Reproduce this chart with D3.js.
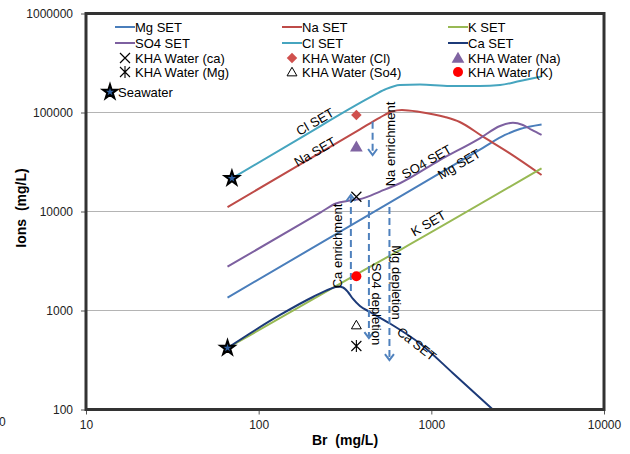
<!DOCTYPE html>
<html>
<head>
<meta charset="utf-8">
<script src="https://cdn.jsdelivr.net/npm/d3@7"></script>
<style>
  body { margin: 0; background: #fff; }
  svg { font-family: Arial, "Liberation Sans", sans-serif; }
</style>
</head>
<body>
<script>
// evaporation curves, Br (mg/L) against ion (mg/L)
var brMg  = [66, 658, 1990, 2670, 3260, 4350];
var ionMg = [1350, 14100, 44000, 59300, 68100, 75700];

var brNa  = [66, 173, 386, 504, 592, 676, 859, 1200, 1460, 1990, 2850, 4350];
var ionNa = [11100, 29700, 67500, 89000, 102400, 106000, 101200, 90000, 80200, 57000, 38700, 23400];

var brK  = [66, 366, 658, 4350];
var ionK = [418, 2300, 4080, 27300];

var brSO4  = [66, 230, 280, 338, 397, 504, 658, 1120, 1910, 2500, 2970, 3390, 3820, 4350];
var ionSO4 = [2770, 9880, 12050, 12900, 13500, 15900, 19300, 33100, 54900, 73100, 78900, 74800, 66600, 59300];

var brCl  = [70, 173, 441, 539, 658, 859, 1280, 1910, 2500, 3260, 4350];
var ionCl = [21600, 54800, 141800, 170800, 189600, 191800, 185200, 185200, 189600, 208000, 231000];

var brCa  = [66, 133, 206, 259, 288, 308, 329, 352, 386, 441, 576, 859, 1330, 2270];
var ionCa = [418, 901, 1369, 1649, 1748, 1708, 1538, 1307, 1111, 966, 739, 464, 234, 100];

// KHA water samples (all at one Br value)
var khaBr = 368;
var khaNames  = ["ca", "Cl", "Na", "Mg", "So4", "K"];
var khaValues = [14100, 94300, 45100, 438, 714, 2215];

// seawater starting points
var seaBr  = [70, 66];
var seaIon = [21600, 418];

// dashed arrows: Br, from, to
var arrowBr   = [342, 435, 572, 457];
var arrowFrom = [1574, 13070, 11110, 80700];
var arrowTo   = [14680, 527, 316, 37220];

var xTicks = [10, 100, 1000, 10000];
var yTicks = [100, 1000, 10000, 100000, 1000000];

var w = 630, h = 454;
var pLeft = 86, pRight = 604, pTop = 13.5, pBottom = 409.5;

var svg = d3.select("body").append("svg")
  .attr("width", w).attr("height", h);

var x = d3.scaleLog().domain([10, 10000]).range([pLeft, pRight]);
var y = d3.scaleLog().domain([100, 1000000]).range([pBottom, pTop]);

// gridlines
svg.append("g").selectAll("line")
  .data(yTicks.slice(1, 4))
  .enter().append("line")
  .attr("x1", pLeft).attr("x2", pRight)
  .attr("y1", function(d){ return y(d); })
  .attr("y2", function(d){ return y(d); })
  .attr("stroke", "#b4b4b4").attr("stroke-width", 1);

// axes
var xAxis = d3.axisBottom(x).tickValues(xTicks).tickFormat(d3.format("d"))
  .tickSize(5).tickPadding(6);
var yAxis = d3.axisLeft(y).tickValues(yTicks).tickFormat(d3.format("d"))
  .tickSize(5).tickPadding(8);

var gx = svg.append("g").attr("transform", "translate(0," + pBottom + ")").call(xAxis);
var gy = svg.append("g").attr("transform", "translate(" + pLeft + ",0)").call(yAxis);
[gx, gy].forEach(function(g){
  g.select(".domain").remove();
  g.selectAll("line").attr("stroke", "#555");
  g.selectAll("text").attr("font-size", 12).attr("fill", "#222")
    .attr("font-family", "Arial, 'Liberation Sans', sans-serif");
});

svg.append("text").attr("x", 345).attr("y", 445)
  .attr("text-anchor", "middle").attr("font-size", 14).attr("font-weight", "bold")
  .attr("xml:space", "preserve").text("Br  (mg/L)");
svg.append("text")
  .attr("transform", "translate(26,208) rotate(-90)")
  .attr("text-anchor", "middle").attr("font-size", 14).attr("font-weight", "bold")
  .attr("xml:space", "preserve").text("Ions  (mg/L)");
svg.append("text").attr("x", -1).attr("y", 426).attr("font-size", 12)
  .attr("fill", "#222").text("0");

// clip
svg.append("clipPath").attr("id", "plot")
  .append("rect").attr("x", pLeft).attr("y", pTop)
  .attr("width", pRight - pLeft).attr("height", pBottom - pTop);

var series = [
  { name: "Mg SET",  br: brMg,  ion: ionMg,  color: "#4a7ebb" },
  { name: "Na SET",  br: brNa,  ion: ionNa,  color: "#be4b48" },
  { name: "K SET",   br: brK,   ion: ionK,   color: "#98b954" },
  { name: "SO4 SET", br: brSO4, ion: ionSO4, color: "#7d60a0" },
  { name: "Cl SET",  br: brCl,  ion: ionCl,  color: "#46a5bf" },
  { name: "Ca SET",  br: brCa,  ion: ionCa,  color: "#1c3a78" }
];

var line = d3.line()
  .x(function(d){ return x(d[0]); })
  .y(function(d){ return y(d[1]); })
  .curve(d3.curveMonotoneX);

svg.append("g").attr("clip-path", "url(#plot)")
  .selectAll("path")
  .data(series)
  .enter().append("path")
  .attr("d", function(s){ return line(d3.zip(s.br, s.ion)); })
  .attr("fill", "none")
  .attr("stroke", function(s){ return s.color; })
  .attr("stroke-width", 2);

// dashed arrows
var blue = "#4f81bd";
arrowBr.forEach(function(b, i){
  var ax = x(b), y1 = y(arrowFrom[i]), y2 = y(arrowTo[i]);
  var dir = y2 > y1 ? 1 : -1;
  svg.append("line")
    .attr("x1", ax).attr("x2", ax).attr("y1", y1).attr("y2", y2 - dir * 2)
    .attr("stroke", blue).attr("stroke-width", 2)
    .attr("stroke-dasharray", "7,4");
  svg.append("path")
    .attr("d", "M" + (ax - 4.5) + "," + (y2 - dir * 6) + "L" + ax + "," + y2 +
               "L" + (ax + 4.5) + "," + (y2 - dir * 6))
    .attr("fill", "none").attr("stroke", blue).attr("stroke-width", 2);
});

// marker drawing helpers
function drawMarker(g, kind, cx, cy) {
  if (kind === "ca") {
    g.append("path").attr("d", "M" + (cx-5) + "," + (cy-5) + "L" + (cx+5) + "," + (cy+5) +
      "M" + (cx+5) + "," + (cy-5) + "L" + (cx-5) + "," + (cy+5))
      .attr("stroke", "#000").attr("stroke-width", 1.2).attr("fill", "none");
  } else if (kind === "Cl") {
    g.append("path").attr("transform", "translate(" + cx + "," + cy + ")")
      .attr("d", d3.symbol().type(d3.symbolDiamond2).size(70)())
      .attr("fill", "#d0504d");
  } else if (kind === "Na") {
    g.append("path").attr("transform", "translate(" + cx + "," + (cy + 1) + ")")
      .attr("d", d3.symbol().type(d3.symbolTriangle).size(70)())
      .attr("fill", "#8064a2");
  } else if (kind === "Mg") {
    g.append("path").attr("d", "M" + (cx-5) + "," + (cy-5) + "L" + (cx+5) + "," + (cy+5) +
      "M" + (cx+5) + "," + (cy-5) + "L" + (cx-5) + "," + (cy+5) +
      "M" + cx + "," + (cy-6) + "L" + cx + "," + (cy+6))
      .attr("stroke", "#000").attr("stroke-width", 1.1).attr("fill", "none");
  } else if (kind === "So4") {
    g.append("path").attr("transform", "translate(" + cx + "," + (cy + 1) + ")")
      .attr("d", d3.symbol().type(d3.symbolTriangle2).size(70)())
      .attr("fill", "none").attr("stroke", "#000").attr("stroke-width", 1);
  } else if (kind === "K") {
    g.append("circle").attr("cx", cx).attr("cy", cy).attr("r", 5)
      .attr("fill", "#ff0000");
  } else if (kind === "sea") {
    g.append("path").attr("transform", "translate(" + cx + "," + cy + ")")
      .attr("d", d3.symbol().type(d3.symbolStar).size(62)())
      .attr("fill", "#2f5f9f").attr("stroke", "#000").attr("stroke-width", 2)
      .attr("stroke-linejoin", "miter");
  }
}

// KHA points
var pts = svg.append("g");
khaNames.forEach(function(n, i){
  drawMarker(pts, n, x(khaBr), y(khaValues[i]));
});
seaBr.forEach(function(b, i){
  drawMarker(pts, "sea", x(b), y(seaIon[i]));
});

// curve labels and annotations (anchor in data units, angle in degrees)
var labels = [
  { t: "Cl SET",        br: 212, ion: 80700, a: -30 },
  { t: "Na SET",        br: 212, ion: 40200, a: -30 },
  { t: "SO4 SET",       br: 939, ion: 31850, a: -30 },
  { t: "Mg SET",        br: 1445, ion: 30200, a: -30 },
  { t: "K SET",         br: 960, ion: 7600, a: -30 },
  { t: "Ca SET",        br: 822, ion: 459, a: 38 },
  { t: "Ca enrichment", br: 285, ion: 4480, a: -90 },
  { t: "SO4 depletion", br: 482, ion: 1163, a: 90 },
  { t: "Mg depletion",  br: 630, ion: 1918, a: 90 },
  { t: "Na enrichment", br: 581, ion: 48060, a: -90 }
];
svg.append("g").selectAll("text")
  .data(labels)
  .enter().append("text")
  .attr("transform", function(d){
    return "translate(" + x(d.br) + "," + y(d.ion) + ") rotate(" + d.a + ")";
  })
  .attr("text-anchor", "middle").attr("dy", "0.35em")
  .attr("font-size", 13).attr("fill", "#000")
  .text(function(d){ return d.t; });

// frame
svg.append("rect").attr("x", pLeft).attr("y", pTop)
  .attr("width", pRight - pLeft).attr("height", pBottom - pTop)
  .attr("fill", "none").attr("stroke", "#333").attr("stroke-width", 3);

// legend
var colX = [115, 282, 448];
var rowY = [27, 43, 58, 72];
var leg = svg.append("g").attr("font-size", 13);
series.forEach(function(s, i){
  var cx = colX[i % 3], cy = rowY[Math.floor(i / 3)];
  leg.append("line").attr("x1", cx).attr("x2", cx + 20)
    .attr("y1", cy).attr("y2", cy)
    .attr("stroke", s.color).attr("stroke-width", 2);
  leg.append("text").attr("x", cx + 20).attr("y", cy).attr("dy", "0.35em")
    .text(s.name);
});
khaNames.forEach(function(n, i){
  var cx = colX[i % 3], cy = rowY[2 + Math.floor(i / 3)];
  drawMarker(leg, n, cx + 10, cy);
  leg.append("text").attr("x", cx + 20).attr("y", cy).attr("dy", "0.35em")
    .text("KHA Water (" + n + ")");
});
drawMarker(leg, "sea", 110, 92);
leg.append("text").attr("x", 118).attr("y", 92).attr("dy", "0.35em").text("Seawater");
</script>
</body>
</html>
